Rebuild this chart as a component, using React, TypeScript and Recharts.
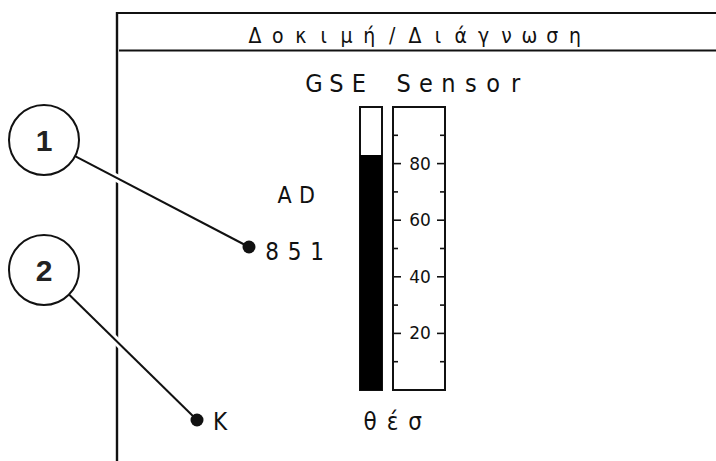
import React from 'react';
import { BarChart, Bar, XAxis, YAxis } from 'recharts';

// display readings
const categories = ['GSE Sensor'];
const levelValues = [83];
const scaleTicks = [10, 20, 30, 40, 50, 60, 70, 80, 90];
const labeledTicks = [20, 40, 60, 80];

const titleText = 'Δοκιμή/Διάγνωση';
const sensorText = 'GSE Sensor';
const adLabel = 'AD';
const adValue = '851';
const kLabel = 'K';
const posLabel = 'θέσ';
const calloutLabels = ['1', '2'];

const chartData = categories.map((name, i) => ({ name, level: levelValues[i] }));

const W = 716;
const H = 461;
const PLOT_LEFT = 360;
const PLOT_RIGHT = 382;
const PLOT_TOP = 107;
const PLOT_BOTTOM = 390;
const AXIS_W = 63;

const displayFont = "'Liberation Sans Narrow', 'DejaVu Sans Condensed', 'DejaVu Sans', sans-serif";
const INK = '#111';

// LCD-like fixed pitch text: one x per character
function CellText({ text, x0, pitch, y, size, family = displayFont }: any) {
  const xs = Array.from(text as string).map((_, i) => (x0 + i * pitch).toFixed(1)).join(' ');
  return (
    <text x={xs} y={y} textAnchor="middle" fontSize={size} fontFamily={family} fill={INK}>
      {text}
    </text>
  );
}

function ScaleTick(props: any) {
  const { x, y, payload } = props;
  const major = labeledTicks.includes(payload.value);
  const boxL = x + 11;
  const boxR = x + AXIS_W;
  const len = major ? 8 : 5;
  return (
    <g>
      <line x1={boxL} x2={boxL + len} y1={y} y2={y} stroke={INK} strokeWidth={1.6} />
      <line x1={boxR - len} x2={boxR} y1={y} y2={y} stroke={INK} strokeWidth={1.6} />
      {major && (
        <text x={x + 38} y={y + 6} textAnchor="middle" fontSize={17} fontFamily="'DejaVu Sans', sans-serif" fill={INK}>
          {payload.value}
        </text>
      )}
    </g>
  );
}

function Callout({ cx, cy, label, tx, ty }: any) {
  const r = 35;
  const dx = tx - cx;
  const dy = ty - cy;
  const d = Math.sqrt(dx * dx + dy * dy);
  const sx = cx + (dx / d) * r;
  const sy = cy + (dy / d) * r;
  return (
    <g>
      <line x1={sx} y1={sy} x2={tx} y2={ty} stroke="#fff" strokeWidth={8} />
      <line x1={sx} y1={sy} x2={tx} y2={ty} stroke={INK} strokeWidth={2} />
      <circle cx={tx} cy={ty} r={6.5} fill={INK} />
      <circle cx={cx} cy={cy} r={r} fill="#fff" stroke={INK} strokeWidth={2} />
      <text x={cx} y={cy + 11} textAnchor="middle" fontSize={30} fontWeight="bold" fontFamily="'Liberation Sans', Arial, sans-serif" fill="#222">
        {label}
      </text>
    </g>
  );
}

export default function App() {
  return (
    <div style={{ position: 'absolute', left: 0, top: 0, width: W, height: H, background: '#fff' }}>
      <BarChart
        width={W}
        height={H}
        data={chartData}
        margin={{ top: PLOT_TOP, right: W - PLOT_RIGHT - AXIS_W, bottom: H - PLOT_BOTTOM, left: PLOT_LEFT }}
        barCategoryGap={0}
      >
        {/* display frame */}
        <line x1={117} y1={12} x2={117} y2={H} stroke={INK} strokeWidth={2.4} />
        <line x1={117} y1={13} x2={W} y2={13} stroke={INK} strokeWidth={2} />
        <line x1={119} y1={50.5} x2={W} y2={50.5} stroke={INK} strokeWidth={2} />

        <XAxis dataKey="name" hide />
        <YAxis
          orientation="right"
          domain={[0, 100]}
          ticks={scaleTicks}
          interval={0}
          width={AXIS_W}
          axisLine={false}
          tickLine={false}
          tickSize={0}
          tickMargin={0}
          tick={<ScaleTick />}
        />
        <rect
          x={PLOT_RIGHT + 11}
          y={PLOT_TOP}
          width={AXIS_W - 11}
          height={PLOT_BOTTOM - PLOT_TOP}
          fill="none"
          stroke={INK}
          strokeWidth={2}
        />
        <Bar
          dataKey="level"
          fill="#000"
          background={{ fill: '#fff', stroke: INK, strokeWidth: 2 }}
          isAnimationActive={false}
        />

        <CellText text={titleText} x0={255} pitch={22.86} y={43} size={21} />
        <CellText text={sensorText} x0={314} pitch={22.4} y={92} size={25} />
        <CellText text={adLabel} x0={284.5} pitch={22.4} y={203} size={23} />
        <CellText text={adValue} x0={272} pitch={22.5} y={260} size={24} />
        <CellText text={kLabel} x0={220} pitch={22.5} y={430} size={24} />
        <CellText text={posLabel} x0={370} pitch={22.5} y={430} size={24} />

        <Callout cx={44} cy={140} label={calloutLabels[0]} tx={249} ty={247} />
        <Callout cx={44} cy={270} label={calloutLabels[1]} tx={197} ty={420} />
      </BarChart>
    </div>
  );
}
